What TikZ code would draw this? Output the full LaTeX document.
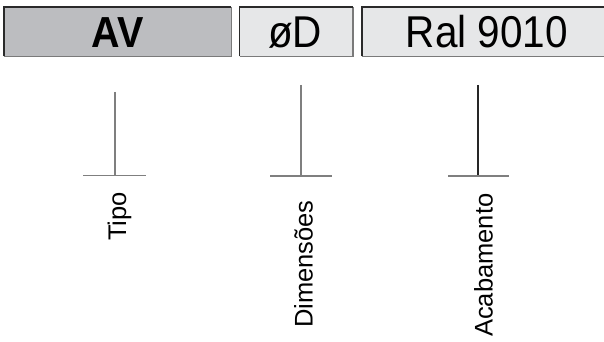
\documentclass[tikz,border=0pt]{standalone}
\usepackage{fontspec}
\setmainfont{Liberation Sans}
\definecolor{darkfill}{HTML}{BCBDC0}
\definecolor{lightfill}{HTML}{E6E7E8}
\definecolor{edgedark}{HTML}{2A2A2A}
\definecolor{edgelight}{HTML}{7A7A7A}
\definecolor{linegray}{HTML}{7F7F7F}
\newcommand{\tallify}[1]{\scalebox{1}[1.1]{#1}}
\begin{document}
\begin{tikzpicture}[x=1pt,y=1pt,
  codebox/.style={draw=none,inner sep=0pt,anchor=north west},
  topedge/.style={draw=edgedark,line width=1.1pt},
  botedge/.style={draw=edgelight,line width=1.3pt},
  bigtext/.style={anchor=base,inner sep=0pt,font=\fontsize{40.5}{48}\selectfont},
  labeltext/.style={anchor=base west,rotate=90,inner sep=0pt,font=\fontsize{25.5}{30}\selectfont},
  leader/.style={draw=linegray,line width=1.3pt}]
\useasboundingbox (0,-342) rectangle (604,0);
\begin{scope}
\clip (0,-342) rectangle (604,0);
% boxes
\node[codebox,fill=darkfill,minimum width=227pt,minimum height=49pt] (b1) at (4,-7) {};
\node[codebox,fill=lightfill,minimum width=113pt,minimum height=49pt] (b2) at (239.5,-7) {};
\node[codebox,fill=lightfill,minimum width=250pt,minimum height=49pt] (b3) at (362,-7) {};
\foreach \b in {b1,b2,b3}{
  \draw[botedge] (\b.south west) -- (\b.south east) -- (\b.north east);
  \draw[topedge] (\b.south west) -- (\b.north west) -- (\b.north east);
}
\end{scope}
% texts in boxes
\node[bigtext,font=\fontsize{39.5}{48}\selectfont\bfseries] (tav) at (117.5,-48) {\tallify{AV}};
\node[bigtext] (tod) at (295,-48) {\tallify{øD}};
\node[bigtext] (tral) at (487,-48) {\tallify{Ral 9010}};
% leaders
\coordinate (t1) at (115,-92);
\coordinate (m1) at (115,-175.5);
\coordinate (l1) at (83,-175.5);
\coordinate (r1) at (146,-175.5);
\coordinate (t2) at (301,-85);
\coordinate (m2) at (301,-176);
\coordinate (l2) at (270,-176);
\coordinate (r2) at (332,-176);
\coordinate (t3) at (478,-85);
\coordinate (m3) at (478,-176);
\coordinate (l3) at (448,-176);
\coordinate (r3) at (509,-176);
\draw[leader] (t1) -- (m1);
\draw[leader] (l1) -- (r1);
\draw[leader] (t2) -- (m2);
\draw[leader] (l2) -- (r2);
\draw[leader,draw=black!85] (t3) -- (m3);
\draw[leader] (l3) -- (r3);
% labels
\node[labeltext] (tipo) at (126,-241) {Tipo};
\node[labeltext] (dim) at (312.5,-328) {Dimensões};
\node[labeltext] (acab) at (492.5,-337) {Acabamento};
\end{tikzpicture}
\end{document}
